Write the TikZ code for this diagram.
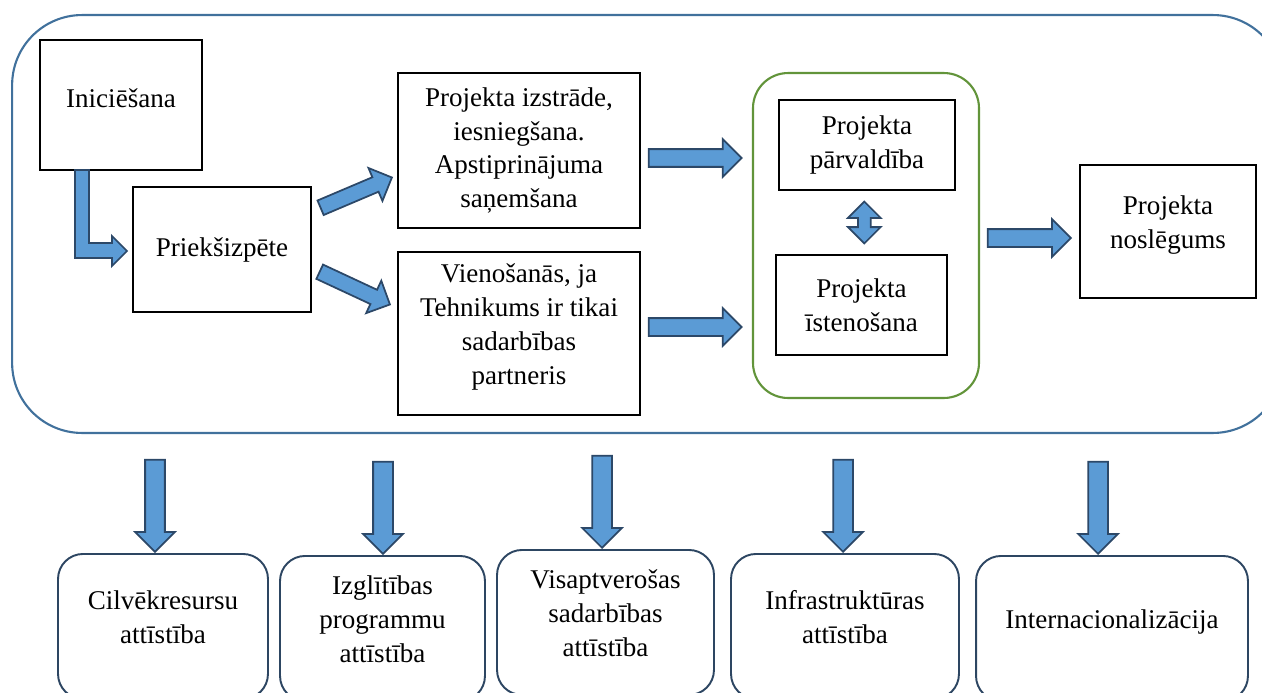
\documentclass[tikz,border=0pt]{standalone}
\usepackage{fontspec}
\setmainfont{Liberation Serif}
\usetikzlibrary{positioning,shapes.arrows,calc}

\definecolor{frameblue}{RGB}{65,113,156}
\definecolor{arrowfill}{RGB}{91,155,213}
\definecolor{arrowline}{RGB}{44,72,104}
\definecolor{groupgreen}{RGB}{98,148,58}
\definecolor{arealine}{RGB}{45,70,98}

\begin{document}
\begin{tikzpicture}[x=0.02cm, y=-0.02cm]
    \tikzset{
        stagebox/.style = {rectangle, draw=black, line width=1.1pt, align=center, fill=white, font=\fontsize{15.4}{19.3}\selectfont},
        areabox/.style = {rectangle, rounded corners=0.5cm, draw=arealine, line width=1.1pt, align=center, anchor=north, minimum height=2.9cm, text depth=11pt, font=\fontsize{15.4}{19.3}\selectfont},
        blockarr/.style = {single arrow, draw=arrowline, fill=arrowfill, line width=1pt, inner xsep=0pt, single arrow head extend=0.2cm, anchor=tip},
        rightarr/.style = {blockarr, inner ysep=0.16cm},
        slantarr/.style = {blockarr, inner ysep=0.14cm, minimum height=1.55cm},
        downarr/.style = {blockarr, inner ysep=0.18cm, minimum height=1.84cm, rotate=-90}
    }
    \useasboundingbox (0,0) rectangle (1262,693);

    \node (phase) [draw=frameblue, line width=1.2pt, rounded corners=1.4cm, minimum width=25.42cm, minimum height=8.36cm] at (647.5,224) {};
    \node (group) [draw=groupgreen, line width=1.2pt, rounded corners=0.7cm, minimum width=4.52cm, minimum height=6.5cm] at (866,235.5) {};

    \node (inic) [stagebox, minimum width=3.24cm, minimum height=2.6cm, text depth=8pt] at (121,105) {Iniciēšana};
    \node (prieks) [stagebox, minimum width=3.56cm, minimum height=2.5cm] at (222,249.5) {Priekšizpēte};
    \node (izstr) [stagebox, minimum width=4.84cm, minimum height=3.1cm] at (519,150.5) {Projekta izstrāde,\\ iesniegšana.\\ Apstiprinājuma\\ saņemšana};
    \node (vienos) [stagebox, minimum width=4.84cm, minimum height=3.26cm, text depth=11pt] at (519,333.5) {Vienošanās, ja\\ Tehnikums ir tikai\\ sadarbības\\ partneris};
    \node (parv) [stagebox, minimum width=3.52cm, minimum height=1.8cm] at (867,145) {Projekta\\ pārvaldība};
    \node (isten) [stagebox, minimum width=3.42cm, minimum height=2.0cm] at (861.5,305) {Projekta\\ īstenošana};
    \node (nosl) [stagebox, minimum width=3.52cm, minimum height=2.66cm, text depth=11pt] at (1168,231.5) {Projekta\\ noslēgums};

    \node (cilv) [areabox, minimum width=4.2cm] at (163,553) {Cilvēkresursu\\ attīstība};
    \node (izgl) [areabox, minimum width=4.1cm] at (382.5,555) {Izglītības\\ programmu\\ attīstība};
    \node (visap) [areabox, minimum width=4.34cm] at (605.5,549) {Visaptverošas\\ sadarbības\\ attīstība};
    \node (infra) [areabox, minimum width=4.56cm] at (845,553) {Infrastruktūras\\ attīstība};
    \node (intern) [areabox, minimum width=5.44cm] at (1112,555) {Internacionalizācija};

    \draw [draw=arrowline, fill=arrowfill, line width=1pt] (75,170) -- (89,170) -- (89,243) -- (112,243) -- (112,236) -- (127,251) -- (112,266) -- (112,258) -- (75,258) -- cycle;
    \node (up1) [slantarr, rotate=23] at ($(izstr.west)+(-4,26.5)$) {};
    \node (dn1) [slantarr, rotate=-25] at ($(vienos.west)+(-6,-28.5)$) {};
    \node (r1) [rightarr, minimum height=1.86cm] at ($(izstr.east)+(102,7.5)$) {};
    \node (r2) [rightarr, minimum height=1.86cm] at ($(vienos.east)+(102,-6.5)$) {};
    \node (r3) [rightarr, minimum height=1.66cm] at ($(nosl.west)+(-7,6.5)$) {};
    \node (both) [double arrow, draw=arrowline, fill=arrowfill, line width=1pt, inner xsep=0pt, inner ysep=0.11cm, double arrow head extend=0.2cm, minimum height=0.84cm, rotate=90] at ($(parv.south)!0.5!(isten.north)$) {};

    \node (d1) [downarr] at ($(cilv.north)+(-8,0)$) {};
    \node (d2) [downarr] at ($(izgl.north)+(0.5,0)$) {};
    \node (d3) [downarr] at ($(visap.north)+(-3.5,0)$) {};
    \node (d4) [downarr] at ($(infra.north)+(-2,0)$) {};
    \node (d5) [downarr] at ($(intern.north)+(-14,0)$) {};
\end{tikzpicture}
\end{document}
